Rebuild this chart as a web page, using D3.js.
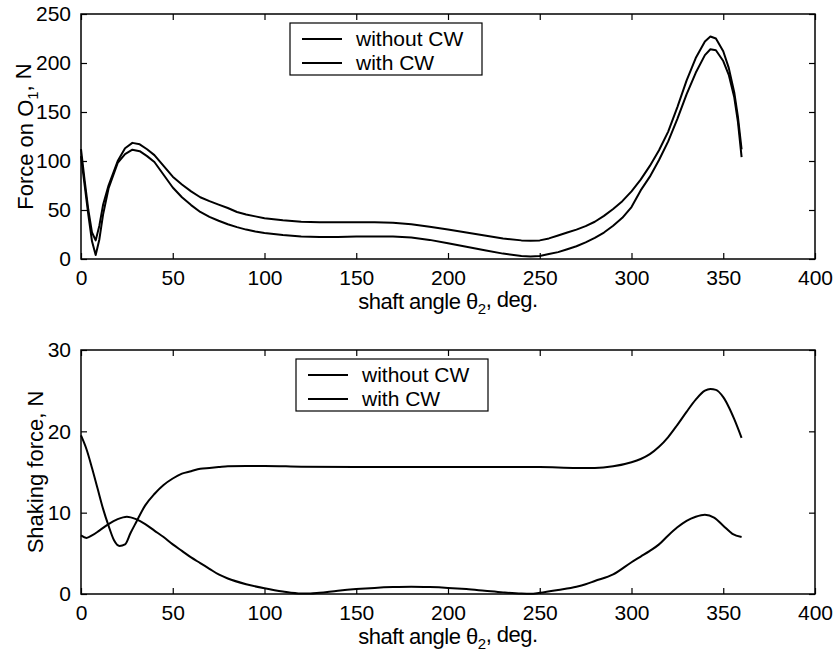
<!DOCTYPE html>
<html lang="en">
<head>
<meta charset="UTF-8">
<script src="https://d3js.org/d3.v7.min.js"></script>
<style>
    body { margin: 0; background: white; }
    text { font-family: Arial, "Liberation Sans", sans-serif; fill: black; }
</style>
</head>
<body>
<div id="chart"></div>
<script>
// shaft angle (deg) and force values
const forceAngles = [0, 2, 4, 6, 8, 10, 12, 15, 20, 24, 28, 32, 36, 40, 45, 50, 55, 60, 65, 70, 75, 80, 85, 90, 95, 100,
    110, 120, 130, 140, 150, 160, 170, 180, 190, 200, 210, 220, 230, 240, 245, 250, 255, 260, 265, 270, 275, 280,
    285, 290, 295, 300, 305, 310, 315, 320, 325, 330, 335, 340, 343, 346, 350, 353, 356, 358, 360];
const forceWithout = [112, 80, 50, 27, 19, 34, 55, 75, 100, 113, 118.5, 117, 112, 106, 95, 84, 76, 69, 63, 59, 55.5, 52, 48, 45.5, 43.5, 41.5,
    39.5, 38, 37.5, 37.5, 37.5, 37.5, 37, 35.5, 33, 30, 27, 24, 21, 19, 18.5, 19, 21, 24, 27, 30, 33.5, 38,
    44, 51, 59, 69, 81, 95, 111, 130, 155, 182, 205, 222, 227, 225, 212, 195, 170, 145, 112];
const forceWith = [105, 75, 45, 18, 4, 20, 45, 72, 98, 107, 111.5, 110, 105, 99, 86, 73, 63, 55, 48, 43, 39, 35.5, 32.5, 30, 28, 26.5,
    24.5, 23, 22.5, 22.5, 23, 23, 23, 22, 19.5, 16, 12.5, 9, 5.5, 3, 2.5, 3, 5, 7, 10, 13, 17, 21.5,
    27, 34, 42, 53, 70, 84, 101, 120, 143, 168, 190, 208, 214, 213, 202, 188, 165, 140, 104];

const shakeAngles1 = [0, 3, 6, 9, 12, 15, 18, 21, 24, 27, 30, 35, 40, 45, 50, 55, 60, 65, 70, 75, 80, 90, 100, 120, 150,
    180, 200, 230, 250, 270, 280, 290, 300, 305, 310, 315, 320, 325, 330, 335, 340, 343, 346, 350, 353, 356, 360];
const shakeWithout = [19.5, 17.8, 15.5, 13, 10.5, 8.4, 6.6, 5.9, 6.1, 7.5, 8.8, 10.9, 12.3, 13.4, 14.2, 14.8, 15.1, 15.4, 15.5, 15.6, 15.7, 15.75, 15.75, 15.65, 15.6,
    15.6, 15.6, 15.6, 15.6, 15.5, 15.5, 15.7, 16.2, 16.6, 17.2, 18.1, 19.3, 20.8, 22.4, 23.9, 25, 25.2, 25.1, 24.2, 23, 21.5, 19.2];

const shakeAngles2 = [0, 3, 6, 10, 15, 20, 25, 30, 35, 40, 45, 50, 55, 60, 65, 70, 75, 80, 90, 100, 110, 120, 125, 130, 140,
    150, 160, 170, 180, 190, 200, 210, 220, 230, 240, 245, 250, 260, 270, 275, 280, 290, 300, 305, 310, 315, 320,
    325, 330, 335, 340, 345, 350, 355, 360];
const shakeWith = [7.2, 6.9, 7.2, 7.8, 8.6, 9.2, 9.5, 9.2, 8.6, 7.8, 7, 6.1, 5.3, 4.5, 3.8, 3.1, 2.4, 1.9, 1.2, 0.7, 0.3, 0.05, 0.05, 0.15, 0.4,
    0.6, 0.75, 0.85, 0.9, 0.85, 0.75, 0.6, 0.4, 0.2, 0.05, 0.02, 0.15, 0.5, 0.9, 1.2, 1.6, 2.4, 3.9, 4.6, 5.3, 6.1, 7.2,
    8.2, 9, 9.5, 9.75, 9.4, 8.4, 7.4, 7.0];

const xTicks = [0, 50, 100, 150, 200, 250, 300, 350, 400];
const forceTicks = [0, 50, 100, 150, 200, 250];
const shakeTicks = [0, 10, 20, 30];
const legendLabels = ["without CW", "with CW"];

const width = 840, height = 659;
const svg = d3.select("#chart").append("svg")
    .attr("width", width)
    .attr("height", height);
svg.append("rect").attr("width", width).attr("height", height).attr("fill", "white");

const left = 81, right = 815, tickLen = 6;

const drawPanel = (opts) => {
    const x = d3.scaleLinear().domain([0, 400]).range([left, right]);
    const y = d3.scaleLinear().domain(opts.yDomain).range([opts.bottom, opts.top]);
    const g = svg.append("g");

    // curves
    const line = d3.line()
        .x(d => x(d[0]))
        .y(d => y(d[1]))
        .curve(opts.curve);
    opts.series.forEach(s => {
        g.append("path")
            .datum(s.angles.map((a, i) => [a, s.values[i]]))
            .attr("d", line)
            .attr("fill", "none")
            .attr("stroke", "black")
            .attr("stroke-width", 2)
            .attr("stroke-linejoin", "round");
    });

    // box
    g.append("rect")
        .attr("x", left).attr("y", opts.top)
        .attr("width", right - left).attr("height", opts.bottom - opts.top)
        .attr("fill", "none").attr("stroke", "black").attr("stroke-width", 1.5);

    // inward ticks on all four sides
    const xAxisB = d3.axisBottom(x).tickValues(xTicks).tickSizeInner(-tickLen).tickSizeOuter(0).tickPadding(tickLen + 5);
    const xAxisT = d3.axisTop(x).tickValues(xTicks).tickSizeInner(-tickLen).tickSizeOuter(0).tickFormat("");
    const yAxisL = d3.axisLeft(y).tickValues(opts.yTicks).tickSizeInner(-tickLen).tickSizeOuter(0).tickPadding(tickLen + 4);
    const yAxisR = d3.axisRight(y).tickValues(opts.yTicks).tickSizeInner(-tickLen).tickSizeOuter(0).tickFormat("");

    [
        g.append("g").attr("transform", `translate(0,${opts.bottom})`).call(xAxisB),
        g.append("g").attr("transform", `translate(0,${opts.top})`).call(xAxisT),
        g.append("g").attr("transform", `translate(${left},0)`).call(yAxisL),
        g.append("g").attr("transform", `translate(${right},0)`).call(yAxisR)
    ].forEach(ax => {
        ax.select(".domain").remove();
        ax.selectAll("line").attr("stroke", "black").attr("stroke-width", 1.2);
        ax.selectAll("text").style("font-size", "21px").attr("fill", "black")
            .style("font-family", "Arial, 'Liberation Sans', sans-serif");
    });

    // x label
    const xl = g.append("text")
        .attr("x", (left + right) / 2)
        .attr("y", opts.bottom + 50)
        .attr("text-anchor", "middle")
        .style("font-size", "22px")
        .style("letter-spacing", "-0.5px");
    xl.append("tspan").text("shaft angle ");
    xl.append("tspan").text("θ");
    xl.append("tspan").attr("dy", "0.35em").style("font-size", "15px").text("2");
    xl.append("tspan").attr("dy", "-0.35em").text(", deg.");

    // y label
    const yl = g.append("text")
        .attr("transform", `translate(${opts.yLabelX},${(opts.top + opts.bottom) / 2}) rotate(-90)`)
        .attr("text-anchor", "middle")
        .style("font-size", "22px");
    opts.yLabel(yl);

    // legend
    const lg = g.append("g").attr("transform", `translate(${opts.legend[0]},${opts.legend[1]})`);
    lg.append("rect")
        .attr("width", 192).attr("height", 52)
        .attr("fill", "white").attr("stroke", "black").attr("stroke-width", 1.2);
    legendLabels.forEach((lab, i) => {
        const ly = 16 + i * 24;
        lg.append("line")
            .attr("x1", 12).attr("x2", 52).attr("y1", ly).attr("y2", ly)
            .attr("stroke", "black").attr("stroke-width", 2);
        lg.append("text")
            .attr("x", 66).attr("y", ly).attr("dy", "0.35em")
            .style("font-size", "21px")
            .text(lab);
    });
};

drawPanel({
    top: 14, bottom: 259,
    yDomain: [0, 250], yTicks: forceTicks,
    curve: d3.curveLinear,
    series: [
        {angles: forceAngles, values: forceWithout},
        {angles: forceAngles, values: forceWith}
    ],
    yLabelX: 33,
    yLabel: t => {
        t.append("tspan").text("Force on O");
        t.append("tspan").attr("dy", "0.35em").style("font-size", "15px").text("1");
        t.append("tspan").attr("dy", "-0.35em").text(", N");
    },
    legend: [290, 23]
});

drawPanel({
    top: 350, bottom: 594,
    yDomain: [0, 30], yTicks: shakeTicks,
    curve: d3.curveMonotoneX,
    series: [
        {angles: shakeAngles1, values: shakeWithout},
        {angles: shakeAngles2, values: shakeWith}
    ],
    yLabelX: 43,
    yLabel: t => t.text("Shaking force, N"),
    legend: [296, 359]
});
</script>
</body>
</html>
